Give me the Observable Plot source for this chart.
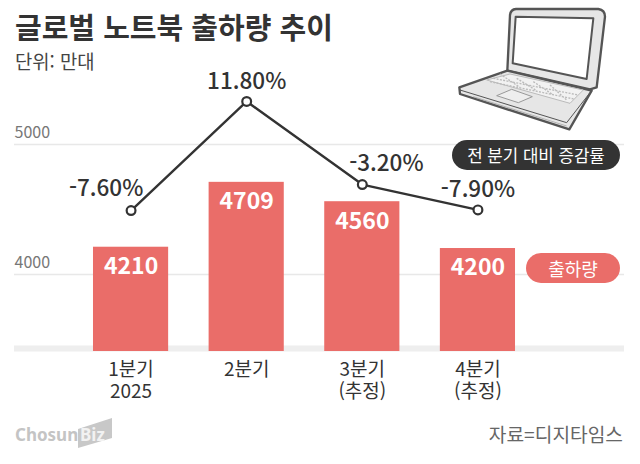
<!DOCTYPE html>
<html lang="ko">
<head>
<meta charset="utf-8">
<script src="https://cdn.jsdelivr.net/npm/d3@7"></script>
<script src="https://cdn.jsdelivr.net/npm/@observablehq/plot@0.6"></script>
<style>
html,body{margin:0;padding:0;background:#fff}
#chart{position:relative;width:640px;height:464px;overflow:hidden;font-family:"Noto Sans CJK KR","Noto Sans",sans-serif}
#chart svg{display:block}
.abs{position:absolute;white-space:nowrap;line-height:1}
.pill{position:absolute;display:flex;align-items:center;justify-content:center;border-radius:16px;color:#fff;white-space:nowrap}
</style>
</head>
<body>
<div id="chart"></div>
<script>
const quarters = ["1분기\n2025", "2분기", "3분기\n(추정)", "4분기\n(추정)"];
const shipments = [4210, 4709, 4560, 4200];
const changeLabels = ["-7.60%", "11.80%", "-3.20%", "-7.90%"];
const changeLevels = [4492, 5331, 4692, 4497];
const yTicks = [4000, 5000];
const axisBase = 3408;

const rows = quarters.map((q, i) => ({q, shipment: shipments[i], label: changeLabels[i], level: changeLevels[i]}));
const fonts = '"Noto Sans CJK KR","Noto Sans",sans-serif';
const labelMark = (i, dx, dy) => Plot.text([rows[i]], {
  x: "q", y: "level", text: "label", dx, dy,
  fontSize: 22.5, fontWeight: 500, fill: "#333", letterSpacing: -0.6
});

const plot = Plot.plot({
  width: 640, height: 464,
  marginLeft: 14, marginRight: 16, marginTop: 0, marginBottom: 113,
  style: {fontFamily: fonts, background: "transparent"},
  x: {type: "band", domain: quarters, range: [72.75, 535.25], paddingInner: 0.35, paddingOuter: 0.175, round: false, label: null},
  y: {domain: [axisBase, 5000], range: [351, 144], label: null},
  marks: [
    Plot.ruleY(yTicks, {stroke: "#e8e8e8", strokeWidth: 1.5}),
    Plot.ruleY([axisBase], {stroke: "#eeeeee", strokeWidth: 6, dy: -3}),
    Plot.axisY(yTicks, {anchor: "left", tickSize: 0, tickPadding: 0, textAnchor: "start", dy: -11.5, fontSize: 16, fill: "#777", label: null, tickFormat: d => String(d)}),
    Plot.axisX({anchor: "bottom", tickSize: 0, tickPadding: 9, fontSize: 19, fill: "#333", lineHeight: 1.16, lineAnchor: "top", label: null}),
    Plot.barY(rows, {x: "q", y1: axisBase, y2: "shipment", fill: "#ea6d69"}),
    Plot.text(rows, {x: "q", y: "shipment", text: d => String(d.shipment), dy: 19.5, fontSize: 23, fontWeight: 700, fill: "#fff"}),
    Plot.line(rows, {x: "q", y: "level", stroke: "#333", strokeWidth: 2.4}),
    Plot.dot(rows, {x: "q", y: "level", r: 4.4, fill: "#fff", stroke: "#333", strokeWidth: 2.2}),
    labelMark(0, -25, -22),
    labelMark(1, 0, -20),
    labelMark(2, 24, -21),
    labelMark(3, 0, -20)
  ]
});
const root = document.getElementById("chart");
root.appendChild(plot);

function add(html){ root.insertAdjacentHTML("beforeend", html); }
add('<div class="abs" style="left:15px;top:12px;font-size:29px;font-weight:700;color:#333">글로벌 노트북 출하량 추이</div>');
add('<div class="abs" style="left:15px;top:52px;font-size:18.8px;color:#444">단위: 만대</div>');
add('<div class="pill" style="left:452px;top:140px;width:168px;height:30px;background:#333;font-size:16.8px">전 분기 대비 증감률</div>');
add('<div class="pill" style="left:526px;top:253px;width:94px;height:30px;background:#ea6d69;font-size:18px">출하량</div>');
add('<div class="abs" style="right:17px;top:425px;font-size:19.2px;color:#666">자료=디지타임스</div>');
add('<svg style="position:absolute;left:0;top:410px" width="130" height="45" viewBox="0 410 130 45"><polygon points="78,429 112,418 112,438 78,448" fill="#c8c8c8"/><g font-size="17" font-weight="700" font-family=\'"Noto Sans",sans-serif\'><text x="15" y="441" fill="#c4c4c4">Chosun</text><text x="80" y="441" fill="#f2f2f2">Biz</text></g></svg>');
add('<svg style="position:absolute;left:450px;top:0" width="170" height="135" viewBox="0 0 510 405" stroke-linejoin="round">'
 + '<path d="M180,45 Q182,28 198,27 L445,27 Q465,30 465,50 L440,262 L420,268 L172,212 Z" fill="#e6e6e6" stroke="#555" stroke-width="7"/>'
 + '<path d="M28,262 L172,212 L425,272 L358,388 L30,282 Z" fill="#e6e6e6" stroke="#555" stroke-width="7"/>'
 + '<path d="M30,270 L350,368 L420,278" fill="none" stroke="#555" stroke-width="3"/>'
 + '<path d="M197,50 L430,55 L410,237 L188,190 Z" fill="#fff" stroke="#555" stroke-width="6"/>'
 + '<path d="M110,240 L180,222 L400,270 L360,310 Z" fill="#f2f2f2" stroke="#bbb" stroke-width="3"/>'
 + '<path d="M130,235 L385,285 M120,245 L372,297 M150,222 L210,262 M200,235 L260,272 M250,245 L310,285 M300,255 L350,300" fill="none" stroke="#bbb" stroke-width="4" stroke-dasharray="6 4"/>'
 + '<path d="M140,287 L185,268 L247,290 L205,308 Z" fill="#eee" stroke="#999" stroke-width="3"/>'
 + '<path d="M70,290 L350,378" fill="none" stroke="#999" stroke-width="2"/>'
 + '</svg>');
</script>
</body>
</html>
